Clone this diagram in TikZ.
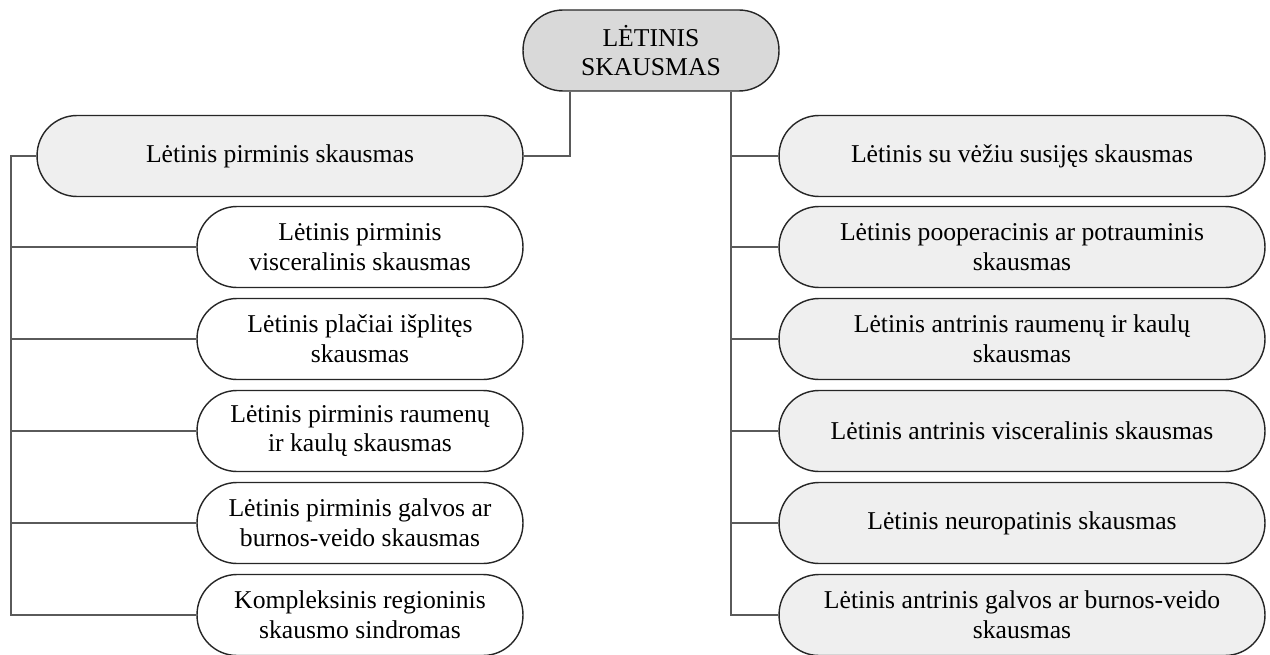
\documentclass[tikz,border=0pt]{standalone}
\usepackage{fontspec}
\setmainfont{Liberation Serif}
\usepackage{xcolor}
\usepackage{tikz}
\usetikzlibrary{positioning,calc}

\definecolor{rootgray}{HTML}{D9D9D9}
\definecolor{boxgray}{HTML}{EFEFEF}
\definecolor{linegray}{HTML}{5A5A5A}

\begin{document}
\begin{tikzpicture}[x=0.02cm, y=-0.02cm,
  pill/.style={draw=black!85, line width=0.8pt, rounded corners=0.8cm, align=center,
    minimum height=1.62cm, inner sep=0pt, font=\fontsize{14.6}{17}\selectfont},
  rootbox/.style={pill, fill=rootgray, minimum width=5.12cm},
  mainbox/.style={pill, fill=boxgray, minimum width=9.72cm},
  subbox/.style={pill, fill=white, minimum width=6.52cm},
  conn/.style={draw=linegray, line width=1.3pt}]
\useasboundingbox (0,0) rectangle (1270,655);

% Root
\node[rootbox] (root) at (651,50.5) {LĖTINIS\\SKAUSMAS};

% Left branch
\node[mainbox] (prim) at (280,156) {Lėtinis pirminis skausmas};
\node[subbox] (pv) at (360,247) {Lėtinis pirminis\\visceralinis skausmas};
\node[subbox] (pi) at (360,339) {Lėtinis plačiai išplitęs\\skausmas};
\node[subbox] (pr) at (360,431) {Lėtinis pirminis raumenų\\ir kaulų skausmas};
\node[subbox] (pg) at (360,523) {Lėtinis pirminis galvos ar\\burnos-veido skausmas};
\node[subbox] (kr) at (360,615) {Kompleksinis regioninis\\skausmo sindromas};

% Right branch
\node[mainbox] (vez) at (1022,156) {Lėtinis su vėžiu susijęs skausmas};
\node[mainbox] (poop) at (1022,247) {Lėtinis pooperacinis ar potrauminis\\skausmas};
\node[mainbox] (antr) at (1022,339) {Lėtinis antrinis raumenų ir kaulų\\skausmas};
\node[mainbox] (visc) at (1022,431) {Lėtinis antrinis visceralinis skausmas};
\node[mainbox] (neur) at (1022,523) {Lėtinis neuropatinis skausmas};
\node[mainbox] (galv) at (1022,615) {Lėtinis antrinis galvos ar burnos-veido\\skausmas};

% Trunks
\coordinate (lj) at (570,0);
\coordinate (rj) at (731,0);
\coordinate (lt) at (11,0);
\draw[conn] (root.south -| lj) |- (prim.east);
\draw[conn] (root.south -| rj) |- (galv.west);
\draw[conn] (prim.west) -- (prim.west -| lt) |- (kr.west);

% Branches
\foreach \n in {pv,pi,pr,pg}
  \draw[conn] (lt |- \n.west) -- (\n.west);
\foreach \n in {vez,poop,antr,visc,neur}
  \draw[conn] (rj |- \n.west) -- (\n.west);

\end{tikzpicture}
\end{document}
